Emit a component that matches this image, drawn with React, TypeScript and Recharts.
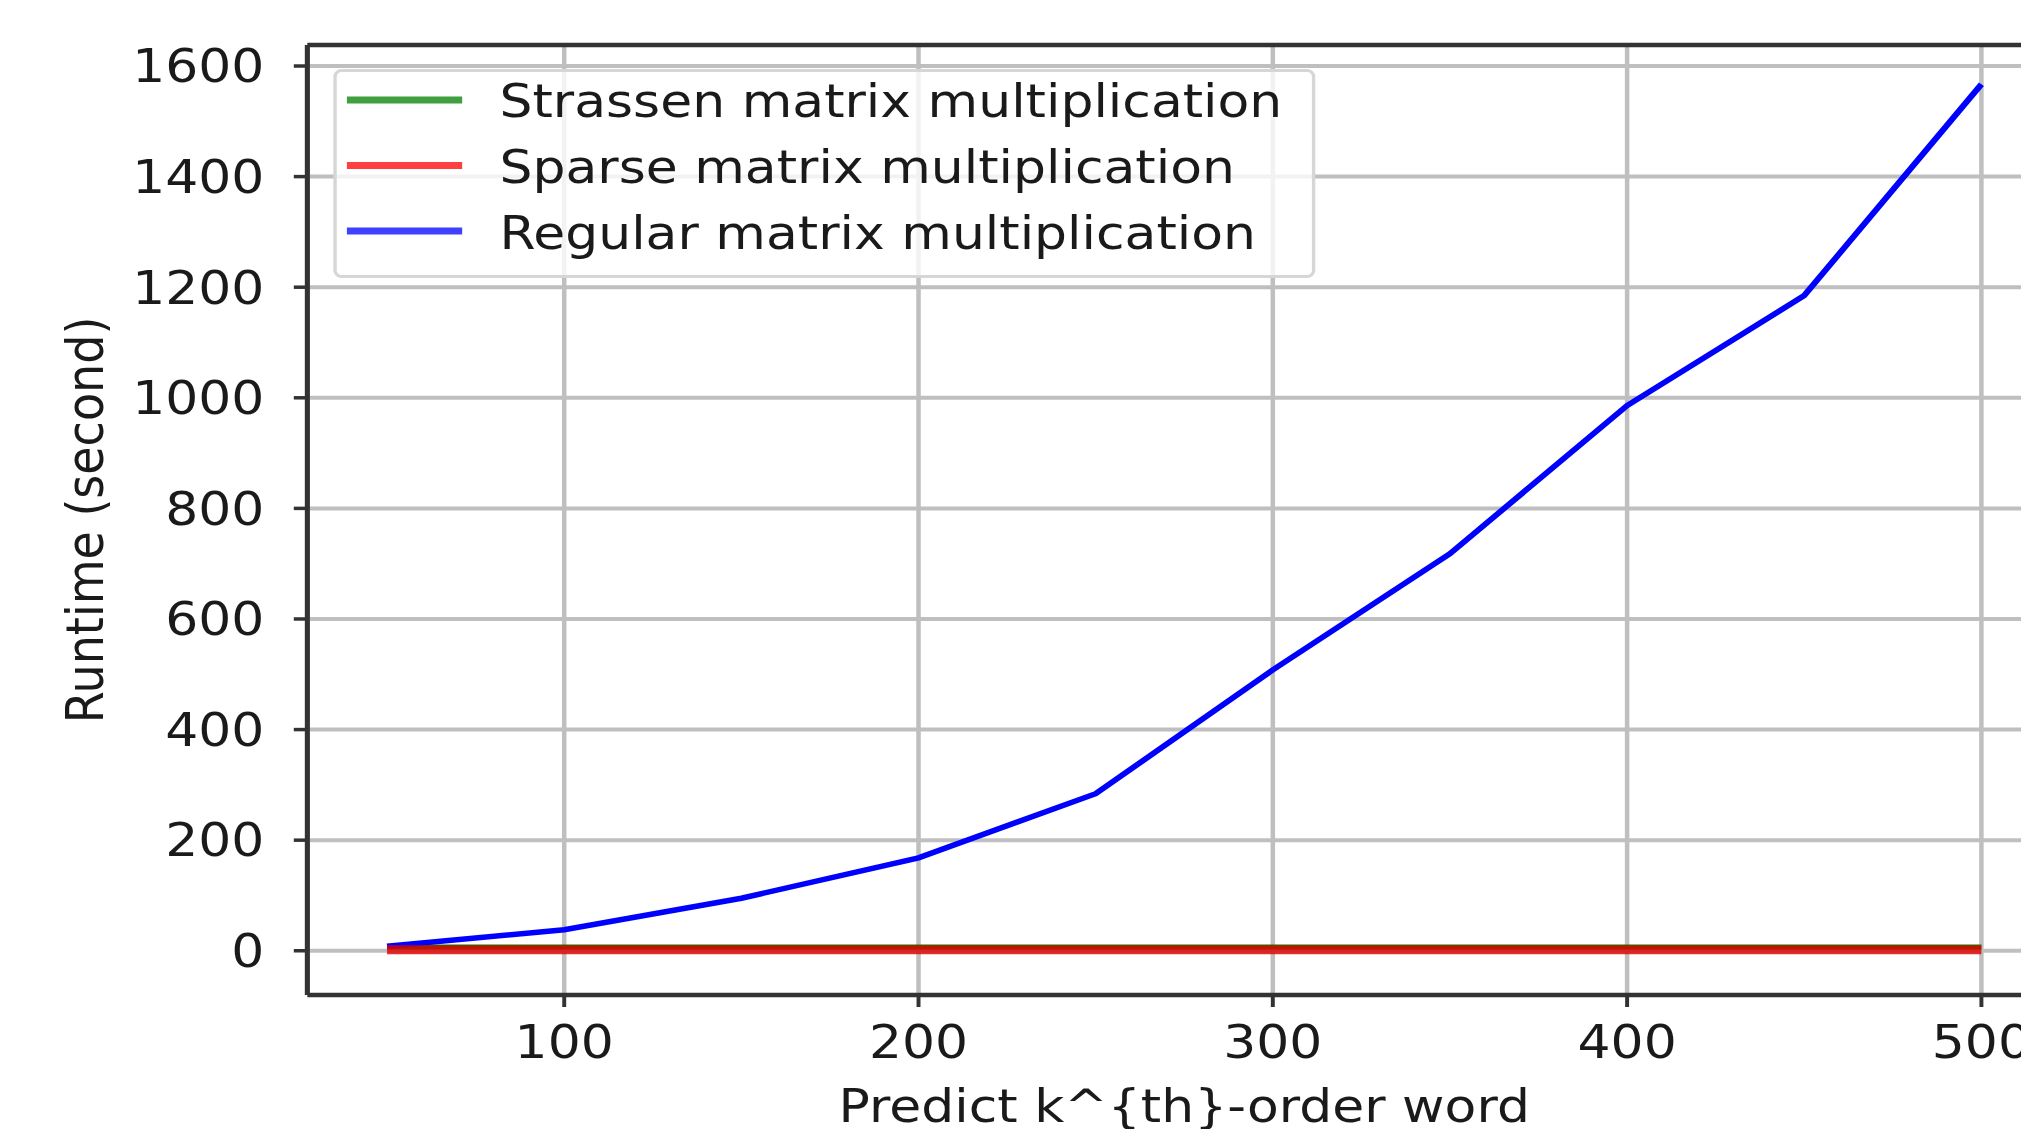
import React from "react";
import {
  LineChart,
  Line,
  XAxis,
  YAxis,
  CartesianGrid,
  ReferenceLine,
  Legend,
} from "recharts";

// k values on the x axis
const orders = [50, 100, 150, 200, 250, 300, 350, 400, 450, 500];
// runtime in seconds
const strassenRuntime = [7, 7, 7, 7, 7, 7, 7, 7, 7, 7];
const sparseRuntime = [2, 2, 2, 2, 2, 2, 2, 2, 2, 2];
const regularRuntime = [8, 38, 95, 168, 284, 508, 718, 986, 1185, 1567];

const xTicks = [100, 200, 300, 400, 500];
const yTicks = [0, 200, 400, 600, 800, 1000, 1200, 1400, 1600];

const series = [
  { key: "strassen", label: "Strassen matrix multiplication", legendColor: "#40a040" },
  { key: "sparse", label: "Sparse matrix multiplication", legendColor: "#ff4040" },
  { key: "regular", label: "Regular matrix multiplication", legendColor: "#4040ff" },
];

const data = orders.map((k, i) => ({
  k,
  strassen: strassenRuntime[i],
  sparse: sparseRuntime[i],
  regular: regularRuntime[i],
}));

// the reference image is stretched horizontally
const SX = 1.13;
const FONT = "'DejaVu Sans', sans-serif";
const INK = "#1a1a1a";
const SPINE = "#333333";
const GRID = "#bfbfbf";

function LegendBox() {
  return (
    <svg width={874} height={214} style={{ display: "block", overflow: "visible" }}>
      <rect x={3.5} y={3.5} width={866} height={206} rx={6} fill="rgba(255,255,255,0.8)" stroke="#d6d6d6" strokeWidth={3} />
      {series.map((s, i) => (
        <g key={s.key}>
          <line x1={14} x2={116} y1={33 + i * 65.5} y2={33 + i * 65.5} stroke={s.legendColor} strokeWidth={7} />
          <text x={149} y={50 + i * 66} fontSize={46} fontFamily={FONT} fill={INK}>
            {s.label}
          </text>
        </g>
      ))}
    </svg>
  );
}

export default function App() {
  return (
    <div style={{ position: "fixed", left: 0, top: 0, width: 2021, height: 1129, overflow: "hidden", background: "#fff" }}>
      <div style={{ transform: `scaleX(${SX})`, transformOrigin: "0 0", width: 1880, height: 1200 }}>
        <LineChart
          width={1880}
          height={1200}
          data={data}
          margin={{ top: 45, right: 56, bottom: 71, left: 0 }}
          style={{ fontFamily: FONT }}
        >
          <CartesianGrid stroke={GRID} strokeWidth={4} />
          <XAxis
            dataKey="k"
            type="number"
            domain={[27.5, 522.5]}
            ticks={xTicks}
            allowDataOverflow
            height={134}
            axisLine={{ stroke: SPINE, strokeWidth: 4.5 }}
            tickLine={{ stroke: SPINE, strokeWidth: 3.5 }}
            tickSize={12}
            tickMargin={18}
            tick={{ fill: INK, fontSize: 46, fontFamily: FONT }}
            label={({ viewBox }: any) => (
              <text
                x={viewBox.x + viewBox.width / 2}
                y={1122}
                textAnchor="middle"
                fontSize={46}
                fontFamily={FONT}
                fill={INK}
              >
                Predict k^{"{th}"}-order word
              </text>
            )}
          />
          <YAxis
            type="number"
            domain={[-80, 1638]}
            ticks={yTicks}
            allowDataOverflow
            width={272}
            axisLine={{ stroke: SPINE, strokeWidth: 4.5 }}
            tickLine={{ stroke: SPINE, strokeWidth: 3.5 }}
            tickSize={12}
            tickMargin={26}
            tick={{ fill: INK, fontSize: 46, fontFamily: FONT }}
            label={({ viewBox }: any) => {
              const cy = viewBox.y + viewBox.height / 2;
              return (
                <text
                  x={91}
                  y={cy}
                  transform={`rotate(-90, 91, ${cy})`}
                  textAnchor="middle"
                  fontSize={46}
                  fontFamily={FONT}
                  fill={INK}
                >
                  Runtime (second)
                </text>
              );
            }}
          />
          <ReferenceLine y={1638} stroke={SPINE} strokeWidth={4.5} />
          <Line dataKey="strassen" type="linear" stroke="#008000" strokeWidth={5} dot={false} isAnimationActive={false} />
          <Line dataKey="regular" type="linear" stroke="#0000ff" strokeWidth={5.5} dot={false} isAnimationActive={false} />
          <Line dataKey="sparse" type="linear" stroke="#e00000" strokeOpacity={0.82} strokeWidth={9} dot={false} isAnimationActive={false} />
          <Legend
            layout="horizontal"
            verticalAlign="middle"
            align="center"
            wrapperStyle={{ left: 293, top: 67, width: 874, height: 214 }}
            content={() => <LegendBox />}
          />
        </LineChart>
      </div>
    </div>
  );
}
